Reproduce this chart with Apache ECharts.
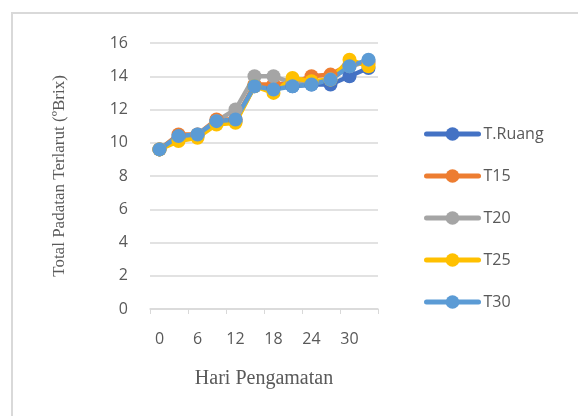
<!DOCTYPE html>
<html>
<head>
<meta charset="utf-8">
<script src="https://cdn.jsdelivr.net/npm/echarts@6/dist/echarts.min.js"></script>
<style>
  html, body { margin: 0; padding: 0; background: #fff; }
  #main { width: 578px; height: 416px; }
</style>
</head>
<body>
<div id="main"></div>
<script>
// hari pengamatan (kategori)
var hari = ['0', '3', '6', '9', '12', '15', '18', '21', '24', '27', '30', '33'];

// nilai TPT per perlakuan
var tRuang = [9.6, 10.3, 10.4, 11.3, 11.3, 13.4, 13.3, 13.4, 13.5, 13.5, 14.0, 14.5];
var t15    = [9.6, 10.5, 10.5, 11.4, 11.4, 13.5, 13.5, 13.6, 14.0, 14.1, 14.7, 14.8];
var t20    = [9.6, 10.3, 10.5, 11.3, 12.0, 14.0, 14.0, 13.6, 13.6, 13.8, 14.6, 14.9];
var t25    = [9.6, 10.1, 10.3, 11.1, 11.2, 13.4, 13.0, 13.9, 13.7, 13.8, 15.0, 14.6];
var t30    = [9.6, 10.4, 10.5, 11.3, 11.4, 13.4, 13.2, 13.4, 13.5, 13.8, 14.6, 15.0];

var yTicks = [0, 2, 4, 6, 8, 10, 12, 14, 16];

(function (win) {
    var chart = {
        init: function () {
            this.draw();
        },
        mkSeries: function (name, data, color) {
            return {
                name: name,
                type: 'line',
                data: data,
                symbol: 'circle',
                symbolSize: 14,
                showAllSymbol: true,
                lineStyle: { width: 4.5, color: color, cap: 'round', join: 'round' },
                itemStyle: { color: color },
                emphasis: { disabled: true }
            };
        },
        draw: function () {
            var myChart = echarts.init(document.getElementById('main'));
            var option = {
                animation: false,
                color: ['#4472c4', '#ed7d31', '#a5a5a5', '#ffc000', '#5b9bd5'],
                graphic: [{
                    type: 'rect',
                    shape: { x: 12, y: 13, width: 620, height: 460 },
                    style: { fill: 'none', stroke: '#d9d9d9', lineWidth: 2 },
                    silent: true
                }],
                grid: { left: 150, right: 200, top: 43, bottom: 107 },
                legend: {
                    orient: 'vertical',
                    left: 419,
                    top: 121,
                    itemGap: 26,
                    itemWidth: 52,
                    itemHeight: 17,
                    lineStyle: { width: 5, cap: 'round' },
                    textStyle: { fontFamily: 'Open Sans', fontSize: 16, color: '#595959', padding: [0, 0, 0, 0] },
                    data: ['T.Ruang', 'T15', 'T20', 'T25', 'T30']
                },
                xAxis: {
                    type: 'category',
                    data: hari,
                    boundaryGap: true,
                    name: 'Hari Pengamatan',
                    nameLocation: 'middle',
                    nameGap: 60,
                    nameTextStyle: { fontFamily: 'Liberation Serif', fontSize: 20, color: '#595959' },
                    axisLine: { lineStyle: { color: '#d9d9d9', width: 1.5 } },
                    axisTick: { show: true, length: 5, lineStyle: { color: '#d9d9d9' } },
                    axisLabel: {
                        interval: 1,
                        margin: 22,
                        fontFamily: 'Open Sans',
                        fontSize: 16,
                        color: '#595959'
                    },
                    splitLine: { show: false }
                },
                yAxis: {
                    type: 'value',
                    min: yTicks[0],
                    max: yTicks[yTicks.length - 1],
                    interval: 2,
                    name: 'Total Padatan Terlarut (ºBrix)',
                    nameLocation: 'middle',
                    nameGap: 82,
                    nameTextStyle: { fontFamily: 'Liberation Serif', fontSize: 17, color: '#595959' },
                    axisLine: { show: false },
                    axisTick: { show: false },
                    axisLabel: {
                        margin: 22,
                        fontFamily: 'Open Sans',
                        fontSize: 16,
                        color: '#595959'
                    },
                    splitLine: { lineStyle: { color: '#d9d9d9', width: 1.5 } }
                },
                series: [
                    this.mkSeries('T.Ruang', tRuang, '#4472c4'),
                    this.mkSeries('T15', t15, '#ed7d31'),
                    this.mkSeries('T20', t20, '#a5a5a5'),
                    this.mkSeries('T25', t25, '#ffc000'),
                    this.mkSeries('T30', t30, '#5b9bd5')
                ]
            };
            myChart.setOption(option);
        }
    };
    chart.init();
})(window);
</script>
</body>
</html>
